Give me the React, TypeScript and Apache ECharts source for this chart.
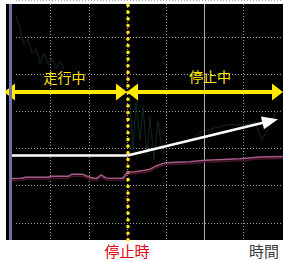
import React, { useEffect, useRef } from "react";
import * as echarts from "echarts";

// time axis (1 unit = one grid column), level axis (1 unit = one grid row)
const stopTime = 3;
const solidTimeLine = 5;
const solidLevelLine = 4;

const pinkX = [0, 0.26, 0.34, 0.935, 1.04, 1.455, 1.56, 1.82, 1.92, 2.1, 2.21, 2.31, 2.44, 2.88, 2.99, 3.19, 3.45, 3.58, 3.74, 3.97, 4.62, 5.01, 5.92, 6.44, 7.04];
const pinkY = [2.195, 2.2, 2.226, 2.226, 2.252, 2.252, 2.312, 2.312, 2.268, 2.2, 2.2, 2.294, 2.208, 2.2, 2.356, 2.377, 2.416, 2.442, 2.532, 2.616, 2.642, 2.683, 2.727, 2.771, 2.787];

const greenX = [0.1, 0.21, 0.31, 0.42, 0.52, 0.62, 0.73, 0.83, 0.94, 1.04, 1.14, 1.25, 1.35, null,
  3.06, 3.14, 3.22, 3.32, 3.4, 3.51, 3.58, 3.69, 3.79, 3.9, null,
  4.62, 4.88, 5.27, 5.66, 6.05, 6.31, 6.49, 6.65, 6.83, 7.04];
const greenY = [6.6, 6.21, 5.82, 5.95, 5.56, 5.69, 5.3, 5.56, 5.25, 5.43, 5.17, 5.35, 5.14, null,
  4.39, 2.96, 4.26, 3.22, 4.13, 2.83, 3.87, 2.7, 3.74, 2.96, null,
  3.22, 3.43, 3.56, 3.64, 3.64, 3.71, 3.22, 3.53, 3.95, 4.05];

const whiteX = [-0.03, 3];
const whiteY = [2.813, 2.813];
const whiteArrowEnd = [6.707, 3.742];

const arrowLevel = 4.52;
const runningSpan = [-0.065, 2.844];
const stoppedSpan = [3.13, 6.896];
const solidLevelSpan = [-0.05, 7.04];

const runningLabel = "走行中";
const stoppedLabel = "停止中";
const stopLabel = "停止時";
const timeLabel = "時間";

const YELLOW = "#ffea00";
const FONT = '"Noto Sans CJK JP", "Noto Sans", sans-serif';

export default function App() {
  const ref = useRef<HTMLDivElement>(null);
  useEffect(() => {
    if (!ref.current) return;
    const chart = echarts.init(ref.current, null, { renderer: "svg" });
    const dotted = { color: "#a0a0a0", width: 1, type: [1, 2] as any };
    const pts = (xs: any[], ys: any[]) => xs.map((x, i) => (x === null ? [null, null] : [x, ys[i]]));
    chart.setOption({
      animation: false,
      backgroundColor: "#ffffff",
      grid: [
        { left: 12, top: 4, right: 1.5, bottom: 20 },
        { left: 4.3, top: -5.5, right: 0, bottom: -4 },
        { left: 16, top: -5.5, right: 0, bottom: -4 },
      ],
      xAxis: [
        {
          gridIndex: 0, type: "value", min: 0, max: 7, interval: 1,
          axisLine: { show: false }, axisTick: { show: false }, axisLabel: { show: false },
          splitLine: { show: true, showMinLine: false, showMaxLine: false, lineStyle: dotted },
        },
        { gridIndex: 1, type: "value", min: -0.2, max: 7.039, show: false },
        { gridIndex: 2, type: "value", min: 0, max: 1, show: false },
      ],
      yAxis: [
        { gridIndex: 0, type: "value", min: 0, max: 1, show: false },
        { gridIndex: 1, type: "value", min: 0, max: 7, show: false },
        {
          gridIndex: 2, type: "value", min: 0, max: 7, interval: 1,
          axisLine: { show: false }, axisTick: { show: false }, axisLabel: { show: false },
          splitLine: { show: true, lineStyle: dotted },
        },
      ],
      graphic: [
        { type: "rect", z: -10, shape: { x: 6, y: 4, width: 277, height: 236 }, style: { fill: "#000000" } },
        { type: "rect", z: 10, shape: { x: 9, y: 4, width: 3, height: 236 }, style: { fill: "#7270a8" } },
        { type: "text", z: 100, x: 64.5, y: 77, style: { text: runningLabel, fill: YELLOW, font: `14px ${FONT}`, textAlign: "center", textVerticalAlign: "middle" } },
        { type: "text", z: 100, x: 210, y: 76, style: { text: stoppedLabel, fill: YELLOW, font: `14px ${FONT}`, textAlign: "center", textVerticalAlign: "middle" } },
        { type: "text", z: 100, x: 127, y: 250.5, style: { text: stopLabel, fill: "#e60012", font: `15px ${FONT}`, textAlign: "center", textVerticalAlign: "middle" } },
        { type: "text", z: 100, x: 279, y: 250.5, style: { text: timeLabel, fill: "#3a3a3a", font: `15px ${FONT}`, textAlign: "right", textVerticalAlign: "middle" } },
      ],
      series: [
        {
          type: "line", xAxisIndex: 0, yAxisIndex: 0, data: [[0, 0]], showSymbol: false,
          lineStyle: { opacity: 0 }, silent: true, clip: false, z: 4,
          markLine: {
            silent: true, symbol: "none", label: { show: false },
            data: [
              { xAxis: solidTimeLine, lineStyle: { color: "#b0b0b0", width: 1, type: "solid" } },
            ],
          },
        },
        {
          type: "line", xAxisIndex: 1, yAxisIndex: 1, data: pts(greenX, greenY), showSymbol: false,
          connectNulls: false, lineStyle: { color: "#10291f", width: 1 }, z: 2, silent: true,
          markLine: {
            silent: true, symbol: "none", label: { show: false },
            lineStyle: { color: "#b0b0b0", width: 1, type: "solid" },
            data: [[{ coord: [solidLevelSpan[0], solidLevelLine] }, { coord: [solidLevelSpan[1], solidLevelLine] }]],
          },
        },
        {
          type: "line", xAxisIndex: 1, yAxisIndex: 1, data: pts(pinkX, pinkY), showSymbol: false,
          lineStyle: { color: "#a85a88", width: 1.5, shadowColor: "#4a1428", shadowOffsetY: 2, shadowBlur: 1 }, z: 5, silent: true,
        },
        {
          type: "line", xAxisIndex: 1, yAxisIndex: 1, data: pts(whiteX, whiteY), showSymbol: false, clip: false,
          lineStyle: { color: "#ffffff", width: 2.5 }, z: 6, silent: true,
          markLine: {
            silent: true, label: { show: false }, symbol: ["none", "triangle"], symbolSize: [13, 16],
            lineStyle: { color: "#ffffff", width: 2.5, type: "solid" },
            data: [[{ coord: [whiteX[1], whiteY[1]] }, { coord: whiteArrowEnd }]],
          },
        },
        {
          type: "line", xAxisIndex: 0, yAxisIndex: 0, data: [[0, 0]], showSymbol: false,
          lineStyle: { opacity: 0 }, silent: true, clip: false, z: 8,
          markLine: {
            silent: true, symbol: "none", label: { show: false },
            data: [
              { xAxis: stopTime, lineStyle: { color: YELLOW, width: 3.6, type: [0.1, 6.6], cap: "round" } },
            ],
          },
        },
        {
          type: "line", xAxisIndex: 1, yAxisIndex: 1, data: [[0, arrowLevel]], showSymbol: false,
          lineStyle: { opacity: 0 }, silent: true, clip: false, z: 9,
          markLine: {
            silent: true, label: { show: false }, symbol: ["triangle", "triangle"], symbolSize: [17, 11],
            lineStyle: { color: YELLOW, width: 4, type: "solid" },
            itemStyle: { color: YELLOW },
            data: [
              [{ coord: [runningSpan[0], arrowLevel] }, { coord: [runningSpan[1], arrowLevel] }],
              [{ coord: [stoppedSpan[0], arrowLevel] }, { coord: [stoppedSpan[1], arrowLevel] }],
            ],
          },
        },
      ],
    });
    return () => chart.dispose();
  }, []);
  return <div ref={ref} style={{ position: "fixed", left: 0, top: 0, width: 283, height: 260 }} />;
}
